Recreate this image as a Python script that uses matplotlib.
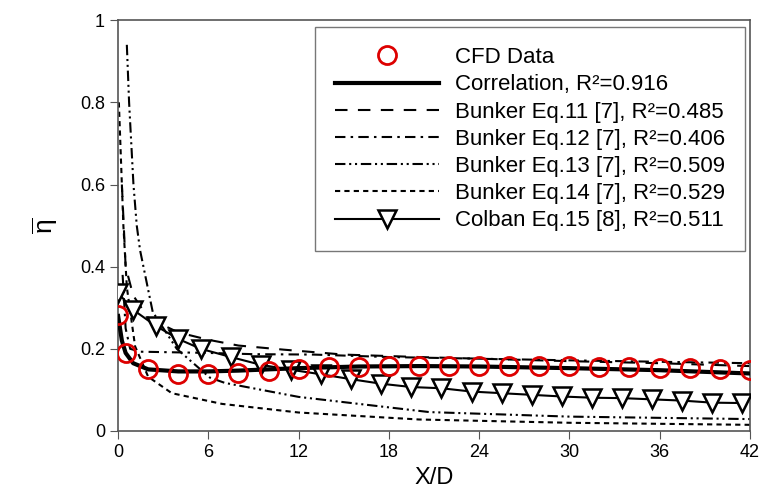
import numpy as np
import matplotlib
matplotlib.use("Agg")
import matplotlib.pyplot as plt

plt.rcParams['font.family'] = ['Liberation Sans', 'DejaVu Sans']
plt.rcParams['mathtext.fontset'] = 'custom'
plt.rcParams['mathtext.rm'] = 'Liberation Sans'

# CFD data
cfd_x = [0, 0.5, 2, 4, 6, 8, 10, 12, 14, 16, 18, 20, 22, 24, 26, 28, 30, 32, 34, 36, 38, 40, 42]
cfd_y = [0.283, 0.19, 0.151, 0.139, 0.139, 0.142, 0.145, 0.151, 0.156, 0.156, 0.158, 0.159,
         0.159, 0.159, 0.158, 0.158, 0.157, 0.156, 0.155, 0.154, 0.153, 0.151, 0.149]

# correlation
corr_x = [0, 0.25, 0.5, 1, 2, 4, 6, 8, 10, 12, 16, 20, 24, 30, 36, 42]
corr_y = [0.28, 0.22, 0.19, 0.165, 0.15, 0.145, 0.145, 0.147, 0.15, 0.153, 0.157, 0.158,
          0.157, 0.153, 0.148, 0.14]

# Bunker Eq.11
b11_x = [0.25, 0.5, 1, 2, 4, 6, 8, 11, 15, 20, 25, 30, 36, 42]
b11_y = [0.6, 0.4, 0.33, 0.275, 0.24, 0.222, 0.208, 0.198, 0.186, 0.18, 0.175, 0.17, 0.165, 0.158]

# Bunker Eq.12
b12_x = [0.3, 0.5, 0.8, 1.5, 6, 9, 13, 18, 21, 30, 42]
b12_y = [0.38, 0.25, 0.2, 0.193, 0.19, 0.187, 0.186, 0.18, 0.178, 0.172, 0.165]

# Bunker Eq.13
b13_x = [0.58, 0.73, 1.02, 1.24, 1.46, 2.3, 3.9, 6.1, 7.1, 12, 20.7, 30, 42]
b13_y = [0.94, 0.8, 0.6, 0.5, 0.44, 0.29, 0.2, 0.13, 0.117, 0.083, 0.046, 0.035, 0.029]

# Bunker Eq.14
b14_x = [0.05, 0.35, 0.58, 1.13, 2, 3.57, 6.9, 12, 20, 30, 42]
b14_y = [0.8, 0.5, 0.35, 0.206, 0.132, 0.092, 0.066, 0.045, 0.028, 0.02, 0.015]

# Colban Eq.15
col_x = [0, 1, 2.5, 4, 5.5, 7.5, 9.5, 11.5, 13.5, 15.5, 17.5, 19.5, 21.5, 23.5, 25.5,
         27.5, 29.5, 31.5, 33.5, 35.5, 37.5, 39.5, 41.5]
col_y = [0.336, 0.295, 0.256, 0.224, 0.2, 0.18, 0.161, 0.149, 0.138, 0.126, 0.115, 0.107,
         0.104, 0.096, 0.092, 0.088, 0.084, 0.081, 0.08, 0.077, 0.074, 0.069, 0.068]

fig = plt.figure(figsize=(7.62, 4.92), dpi=100)
ax = fig.add_axes([0.155, 0.124, 0.829, 0.835])

ax.plot(cfd_x, cfd_y, ls='none', marker='o', ms=13, mfc='none', mec='#dd0000', mew=2,
        label='CFD Data', zorder=5)
ax.plot(corr_x, corr_y, color='k', lw=3, label='Correlation, R²=0.916', zorder=4)
ax.plot(b11_x, b11_y, color='k', lw=1.5, dashes=(6, 5), label='Bunker Eq.11 [7], R²=0.485')
ax.plot(b12_x, b12_y, color='k', lw=1.5, dashes=(5, 2.5, 1.2, 2.5),
        label='Bunker Eq.12 [7], R²=0.406')
ax.plot(b13_x, b13_y, color='k', lw=1.5, dashes=(5, 1.8, 1, 1.8, 1, 1.8),
        label='Bunker Eq.13 [7], R²=0.509')
ax.plot(b14_x, b14_y, color='k', lw=1.5, dashes=(2.5, 2), label='Bunker Eq.14 [7], R²=0.529')
ax.plot(col_x, col_y, color='k', lw=1.5, marker='v', ms=13, mfc='white', mec='k', mew=1.8,
        label='Colban Eq.15 [8], R²=0.511', zorder=3)

ax.set_xlim(0, 42)
ax.set_ylim(0, 1)
ax.set_xticks(np.arange(0, 43, 6))
ax.set_yticks([0, 0.2, 0.4, 0.6, 0.8, 1])
ax.set_yticklabels(['0', '0.2', '0.4', '0.6', '0.8', '1'])
ax.tick_params(labelsize=13, direction='out', length=6, color='#555555', top=False, right=False)
for s in ax.spines.values():
    s.set_color('#555555')
    s.set_linewidth(1.2)

ax.set_xlabel('X/D', fontsize=17, labelpad=4)
ax.set_ylabel(r'$\overline{\mathregular{η}}$', fontsize=19, labelpad=14)

leg = ax.legend(loc='upper right', fontsize=16, handlelength=4.7, labelspacing=0.28,
                fancybox=False, edgecolor='#555555', borderpad=0.9, handletextpad=0.7,
                borderaxespad=0, bbox_to_anchor=(0.992, 0.983))
leg.get_frame().set_linewidth(1.0)

fig.savefig('out.png', dpi=100)
